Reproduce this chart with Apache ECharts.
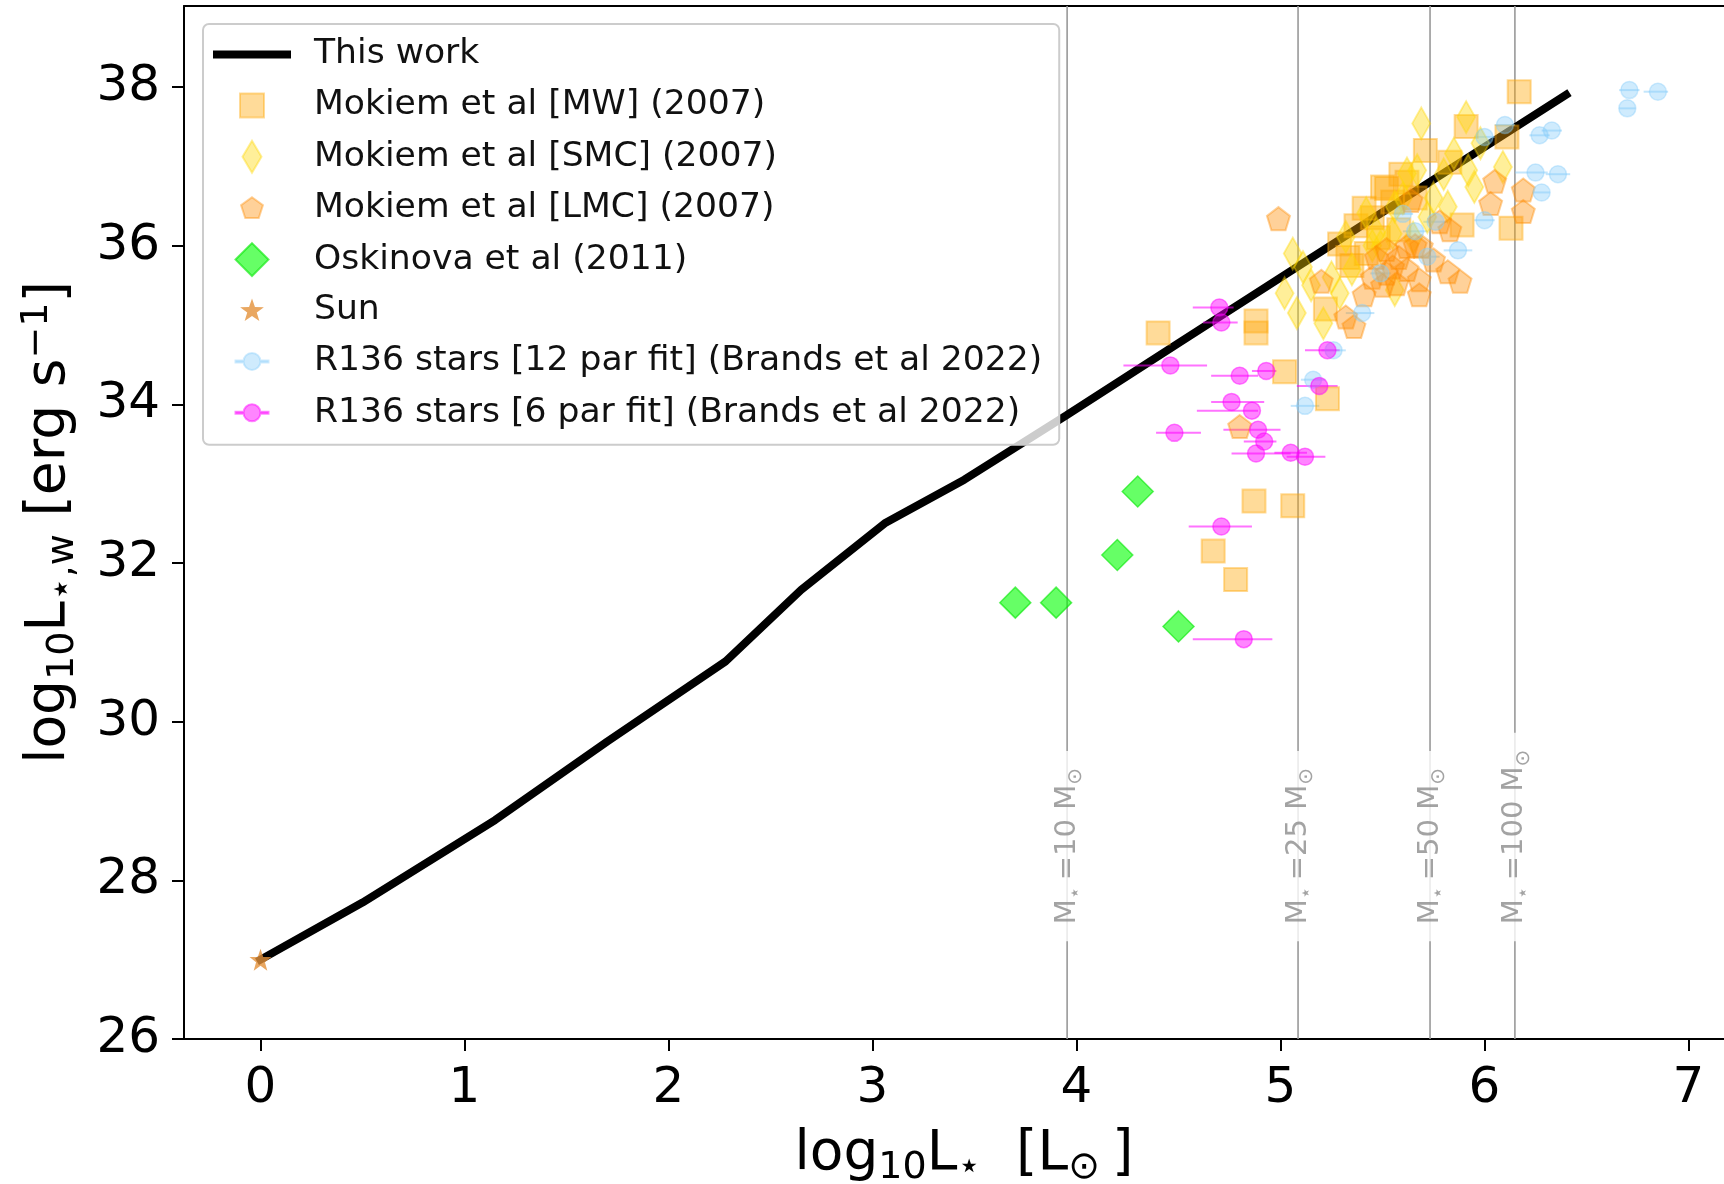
<!DOCTYPE html>
<html>
<head>
<meta charset="utf-8">
<title>Wind luminosity vs stellar luminosity</title>
<script src="https://cdn.jsdelivr.net/npm/echarts@6/dist/echarts.min.js"></script>
<style>
  html, body {margin: 0; padding: 0; background: #fff;}
  #main {width: 1724px; height: 1184px;}
</style>
</head>
<body>
<div id="main"></div>
<script>
// x = log10 L* [Lsun], y = log10 L*,w [erg/s]
var thisWork = [[0, 27.0], [0.5, 27.72], [1.15, 28.76], [1.7, 29.75], [2.28, 30.76], [2.65, 31.66],
  [3.06, 32.5], [3.45, 33.05], [3.95, 33.86], [4.5, 34.77], [5.08, 35.73], [5.7, 36.75], [6.4, 37.9]];

var mokiemMW = [[4.40, 34.90], [4.88, 35.05], [4.88, 34.90], [5.02, 34.41], [5.23, 34.07], [4.87, 32.78],
  [5.06, 32.72], [4.67, 32.15], [4.78, 31.79], [6.17, 37.94], [6.11, 37.37], [6.13, 36.22], [5.71, 37.20],
  [5.91, 37.50], [5.83, 37.05], [5.52, 36.72], [5.59, 36.90], [5.41, 36.47], [5.29, 36.02], [5.35, 35.75],
  [5.89, 36.26], [5.22, 35.20], [5.50, 36.74], [5.37, 36.25], [5.45, 36.35], [5.48, 36.10], [5.55, 36.55],
  [5.62, 36.80], [5.66, 36.60], [5.42, 35.90], [5.33, 35.85], [5.58, 36.20]];

var mokiemSMC = [[5.69, 37.54], [5.06, 35.90], [5.11, 35.73], [5.02, 35.40], [5.08, 35.15], [5.21, 35.02],
  [5.29, 35.40], [5.32, 36.11], [5.42, 36.41], [5.49, 35.99], [5.56, 36.49], [5.62, 36.91], [5.67, 36.95],
  [5.56, 35.44], [5.85, 37.16], [5.92, 36.95], [5.95, 36.74], [5.82, 36.49], [5.72, 36.36], [5.91, 37.62],
  [5.98, 37.29], [6.09, 36.99], [5.47, 36.16], [5.35, 35.70], [5.45, 36.00], [5.55, 36.15], [5.65, 36.10],
  [5.60, 36.60], [5.75, 36.60], [5.80, 36.90], [5.25, 35.60], [5.15, 35.50]];

var mokiemLMC = [[4.99, 36.34], [5.20, 35.55], [5.41, 35.38], [5.32, 35.10], [5.36, 34.98], [5.55, 35.73],
  [5.57, 35.52], [5.62, 35.99], [5.69, 35.99], [5.64, 36.57], [5.68, 35.57], [5.68, 35.38], [5.83, 36.20],
  [5.82, 35.67], [5.88, 35.55], [5.52, 35.65], [5.75, 35.82], [6.05, 36.81], [6.03, 36.53], [6.19, 36.70],
  [6.19, 36.43], [4.80, 33.72], [5.47, 35.85], [5.52, 35.95], [5.58, 35.85], [5.62, 35.70], [5.45, 35.60],
  [5.66, 36.00], [5.50, 35.50], [5.78, 36.30]];

var oskinova = [[3.7, 31.5], [3.9, 31.5], [4.2, 32.1], [4.3, 32.9], [4.5, 31.2]];

var sun = [[0, 27.0]];

// [x, y, x low, x high]
var r136Twelve = [[6.71, 37.96, 6.66, 6.76], [6.85, 37.94, 6.78, 6.90], [6.70, 37.73, 6.66, 6.74],
  [6.27, 37.39, 6.22, 6.32], [6.33, 37.45, 6.28, 6.38], [6.25, 36.92, 6.15, 6.31], [6.36, 36.90, 6.30, 6.42],
  [6.28, 36.67, 6.24, 6.32], [6.00, 36.32, 5.95, 6.05], [6.10, 37.52, 6.05, 6.15], [5.87, 35.94, 5.80, 5.94],
  [5.66, 36.18, 5.60, 5.72], [6.00, 37.37, 5.95, 6.05], [5.40, 35.15, 5.32, 5.46], [5.49, 35.65, 5.44, 5.54],
  [5.72, 35.86, 5.66, 5.78], [5.26, 34.68, 5.20, 5.32], [5.16, 34.31, 5.10, 5.22], [5.12, 33.98, 5.05, 5.19],
  [5.60, 36.40, 5.55, 5.65], [5.76, 36.30, 5.70, 5.82]];

var r136Six = [[4.70, 35.22, 4.57, 4.77], [4.71, 35.03, 4.62, 4.79], [4.46, 34.49, 4.23, 4.64],
  [4.80, 34.36, 4.66, 4.89], [4.93, 34.42, 4.86, 4.98], [5.23, 34.68, 5.12, 5.29], [5.19, 34.23, 5.08, 5.28],
  [4.76, 34.03, 4.66, 4.92], [4.86, 33.92, 4.59, 4.89], [4.48, 33.64, 4.39, 4.61], [4.89, 33.68, 4.72, 5.00],
  [4.92, 33.53, 4.82, 4.98], [4.88, 33.38, 4.76, 5.05], [5.05, 33.39, 4.97, 5.13], [5.12, 33.34, 5.03, 5.22],
  [4.71, 32.46, 4.55, 4.86], [4.82, 31.04, 4.57, 4.96]];

var massLines = [3.954, 5.086, 5.733, 6.149];
var massNames = ['10', '25', '50', '100'];

var xTicks = [0, 1, 2, 3, 4, 5, 6, 7];
var yTicks = [26, 28, 30, 32, 34, 36, 38];

var X_MIN = -0.375, X_MAX = 7.272, Y_MIN = 26, Y_MAX = 39.02;
var LABEL_Y = 27.17;

var FONT = 'DejaVu Sans';
var names = ['This work', 'Mokiem et al [MW] (2007)', 'Mokiem et al [SMC] (2007)', 'Mokiem et al [LMC] (2007)',
  'Oskinova et al (2011)', 'Sun', 'R136 stars [12 par fit] (Brands et al 2022)', 'R136 stars [6 par fit] (Brands et al 2022)'];

var pentagon = 'path://M0,-1L0.951,-0.309L0.588,0.809L-0.588,0.809L-0.951,-0.309Z';
var star = 'path://M0,-1L0.235,-0.324L0.951,-0.309L0.381,0.124L0.588,0.809L0,0.4L-0.588,0.809L-0.381,0.124L-0.951,-0.309L-0.235,-0.324Z';

// legend icons: 96x34 box, marker centred at x=39
var box = 'path://M0,0M96,34';
var legendIcons = [
  box + 'M0,13h78v8h-78Z',
  box + 'M27,5h24v24h-24Z',
  box + 'M39,1L48.5,17L39,33L29.5,17Z',
  box + 'M39,6L49.94,13.95L45.76,26.8L32.24,26.8L28.06,13.95Z',
  box + 'M39,0.5L55.5,17L39,33.5L22.5,17Z',
  box + 'M39,5L41.94,13.45L50.89,13.64L43.76,19.05L46.35,27.61L39,22.5L31.65,27.61L34.24,19.05L27.11,13.64L36.06,13.45Z',
  box + 'M30.5,17a8.5,8.5 0 1,0 17,0a8.5,8.5 0 1,0 -17,0ZM22.5,16h8v2h-8ZM47.5,16h8v2h-8Z',
  box + 'M30.5,17a8.5,8.5 0 1,0 17,0a8.5,8.5 0 1,0 -17,0ZM22.5,16h8v2h-8ZM47.5,16h8v2h-8Z'
];

function errorBars(stroke) {
  return function (params, api) {
    var y = api.value(1);
    var a = api.coord([api.value(2), y]);
    var b = api.coord([api.value(3), y]);
    return {type: 'line', shape: {x1: a[0], y1: a[1], x2: b[0], y2: b[1]},
      style: {stroke: stroke, lineWidth: 2}};
  };
}

var chart = echarts.init(document.getElementById('main'), null, {renderer: 'canvas'});

var option = {
  animation: false,
  textStyle: {fontFamily: FONT},
  grid: {left: 184, right: -20, top: 6, bottom: 145, containLabel: false, outerBoundsMode: 'none'},
  legend: {
    orient: 'vertical', left: 203, top: 24,
    padding: [13, 17, 14, 9],
    itemWidth: 96, itemHeight: 34, itemGap: 15.4,
    backgroundColor: 'rgba(255,255,255,0.8)', borderColor: '#cccccc', borderWidth: 2, borderRadius: 6,
    selectedMode: false,
    textStyle: {fontFamily: FONT, fontSize: 34.6, lineHeight: 34, color: '#111'},
    data: names.map(function (n, i) { return {name: n, icon: legendIcons[i]}; })
  },
  xAxis: [{
    type: 'value', min: X_MIN, max: X_MAX, position: 'bottom',
    axisLine: {onZero: false, lineStyle: {color: '#000', width: 2}},
    axisTick: {length: 12, lineStyle: {color: '#000', width: 2}, customValues: xTicks},
    axisLabel: {customValues: xTicks, fontSize: 50, color: '#000', margin: 25, fontFamily: FONT},
    splitLine: {show: false},
    name: '{n|log}{s|10}{n|L}{s|⋆}{n|  [L}{s|⊙ }{n|]}',
    nameLocation: 'middle', nameGap: 84,
    nameTextStyle: {rich: {
      n: {fontSize: 55, lineHeight: 64, color: '#000', fontFamily: FONT},
      s: {fontSize: 38, verticalAlign: 'bottom', color: '#000', fontFamily: FONT}
    }}
  }, {
    type: 'value', min: X_MIN, max: X_MAX, position: 'top',
    axisLine: {onZero: false, lineStyle: {color: '#000', width: 2}},
    axisTick: {show: false}, axisLabel: {show: false}, splitLine: {show: false}
  }],
  yAxis: {
    type: 'value', min: Y_MIN, max: Y_MAX,
    axisLine: {show: true, onZero: false, lineStyle: {color: '#000', width: 2}},
    axisTick: {show: true, length: 12, lineStyle: {color: '#000', width: 2}, customValues: yTicks},
    axisLabel: {customValues: yTicks, fontSize: 50, color: '#000', margin: 24, fontFamily: FONT},
    splitLine: {show: false},
    name: '{n|log}{s|10}{n|L}{s|⋆,w}{n| [erg s}{p|−1}{n|]}',
    nameLocation: 'middle', nameGap: 102, nameRotate: 90,
    nameTextStyle: {rich: {
      n: {fontSize: 55, lineHeight: 64, color: '#000', fontFamily: FONT},
      s: {fontSize: 38, verticalAlign: 'bottom', color: '#000', fontFamily: FONT},
      p: {fontSize: 38, verticalAlign: 'top', color: '#000', fontFamily: FONT}
    }}
  },
  series: [
    {
      type: 'custom', name: 'massLines', silent: true, z: 1,
      data: massLines.map(function (x) { return [x, Y_MIN, Y_MAX]; }),
      renderItem: function (params, api) {
        var a = api.coord([api.value(0), api.value(1)]);
        var b = api.coord([api.value(0), api.value(2)]);
        return {type: 'line', shape: {x1: a[0], y1: a[1], x2: b[0], y2: b[1]},
          style: {stroke: '#999999', lineWidth: 1.6}};
      }
    },
    {
      type: 'line', name: names[0], data: thisWork, showSymbol: false, symbol: 'none', z: 2,
      itemStyle: {color: '#000'},
      lineStyle: {color: '#000', width: 8, cap: 'square'}
    },
    {
      type: 'scatter', name: names[1], data: mokiemMW, symbol: 'rect', symbolSize: 23, z: 3,
      itemStyle: {color: 'rgba(255,165,0,0.5)', borderColor: 'rgba(255,165,0,0.5)', borderWidth: 2}
    },
    {
      type: 'scatter', name: names[2], data: mokiemSMC, symbol: 'diamond', symbolSize: [18, 32], z: 3,
      itemStyle: {color: 'rgba(255,215,0,0.5)', borderColor: 'rgba(255,215,0,0.5)', borderWidth: 2}
    },
    {
      type: 'scatter', name: names[3], data: mokiemLMC, symbol: pentagon, symbolSize: 23, z: 3,
      itemStyle: {color: 'rgba(255,140,0,0.5)', borderColor: 'rgba(255,140,0,0.5)', borderWidth: 2}
    },
    {
      type: 'scatter', name: names[4], data: oskinova, symbol: 'diamond', symbolSize: 31, z: 3,
      itemStyle: {color: 'rgba(0,255,0,0.75)', borderColor: 'rgba(0,230,0,0.75)', borderWidth: 1.5}
    },
    {
      type: 'scatter', name: names[5], data: sun, symbol: star, symbolSize: 22, z: 3,
      itemStyle: {color: '#e3913a'}
    },
    {
      type: 'custom', name: 'err12', silent: true, z: 3,
      data: r136Twelve, renderItem: errorBars('rgba(135,206,250,0.5)')
    },
    {
      type: 'scatter', name: names[6], data: r136Twelve, symbol: 'circle', symbolSize: 17, z: 3,
      encode: {x: 0, y: 1},
      itemStyle: {color: 'rgba(135,206,250,0.5)', borderColor: 'rgba(135,206,250,0.5)', borderWidth: 1.5}
    },
    {
      type: 'custom', name: 'err6', silent: true, z: 3,
      data: r136Six, renderItem: errorBars('rgba(255,0,255,0.55)')
    },
    {
      type: 'scatter', name: names[7], data: r136Six, symbol: 'circle', symbolSize: 17, z: 3,
      encode: {x: 0, y: 1},
      itemStyle: {color: 'rgba(255,0,255,0.6)', borderColor: 'rgba(255,0,255,0.6)', borderWidth: 1.5}
    },
    {
      type: 'scatter', name: 'massLabels', silent: true, z: 5, symbolSize: 0,
      data: massLines.map(function (x, i) { return [x, LABEL_Y, massNames[i]]; }),
      label: {
        show: true, position: 'inside', rotate: 90, align: 'left', verticalAlign: 'middle',
        offset: [5, 0],
        backgroundColor: '#fff', padding: [2, 17],
        formatter: function (p) { return '{a|M}{b|⋆ }{a|=' + p.value[2] + ' M}{b|⊙}'; },
        rich: {
          a: {fontSize: 29, lineHeight: 37, color: '#8c8c8c', fontFamily: FONT},
          b: {fontSize: 20, verticalAlign: 'bottom', color: '#8c8c8c', fontFamily: FONT}
        }
      }
    }
  ]
};

chart.setOption(option);
</script>
</body>
</html>
